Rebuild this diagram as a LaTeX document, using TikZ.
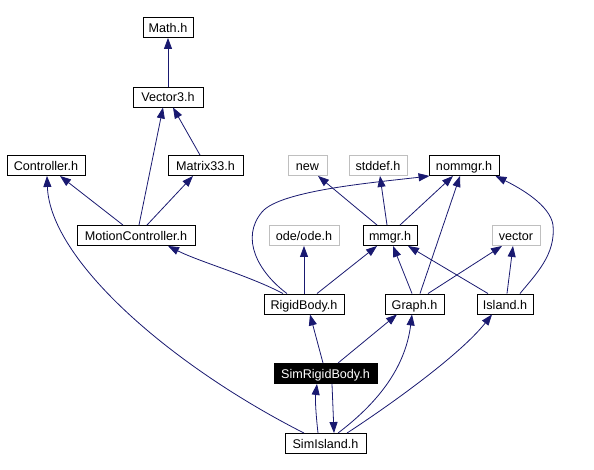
\documentclass[tikz,border=0pt]{standalone}
\usepackage{fontspec}
\setmainfont{Liberation Sans}
\usetikzlibrary{arrows.meta}
\definecolor{edgeblue}{HTML}{191970}
\definecolor{extgray}{HTML}{BFBFBF}
\tikzset{
  box/.style={draw=black, line width=0.9pt, fill=white, minimum height=20pt,
    inner xsep=0pt, inner ysep=0pt, text height=10pt, text depth=0pt,
    font=\fontsize{12.6}{14}\selectfont},
  extbox/.style={box, draw=extgray},
  selbox/.style={box, fill=black, text=white},
  dep/.style={draw=edgeblue, line width=0.8pt, -{Triangle[length=11pt,width=8pt]}},
}
\begin{document}
\begin{tikzpicture}[x=1pt,y=-1pt]
\useasboundingbox (0,0) rectangle (594,470);
% nodes
\node[box, minimum width=50pt] (math) at (168,27.5) {Math.h};
\node[box, minimum width=70pt] (vec3) at (168,97) {Vector3.h};
\node[box, minimum width=78pt] (ctrl) at (46,165.5) {Controller.h};
\node[box, minimum width=75pt] (mat33) at (205.5,165.5) {Matrix33.h};
\node[box, minimum width=118pt] (motion) at (136,235.5) {MotionController.h};
\node[extbox, minimum width=39pt] (new) at (307.5,165.5) {new};
\node[extbox, minimum width=58pt] (stddef) at (378,165.5) {stddef.h};
\node[box, minimum width=70pt] (nommgr) at (464,165.5) {nommgr.h};
\node[extbox, minimum width=70pt] (ode) at (304,235.5) {ode/ode.h};
\node[box, minimum width=54pt] (mmgr) at (390,235.5) {mmgr.h};
\node[extbox, minimum width=48pt] (vector) at (516,235.5) {vector};
\node[box, minimum width=80pt] (rigid) at (304,304) {RigidBody.h};
\node[box, minimum width=59pt] (graph) at (414.5,304) {Graph.h};
\node[box, minimum width=56pt] (island) at (505,304) {Island.h};
\node[selbox, minimum width=103pt] (simrb) at (325.5,373.5) {SimRigidBody.h};
\node[box, minimum width=81pt] (simisl) at (325.5,443.5) {SimIsland.h};
% edges
\draw[dep] (vec3.north) -- (math.south);
\draw[dep] ([xshift=3pt]motion.north) -- ([xshift=-5pt]vec3.south);
\draw[dep] ([xshift=-5.5pt]mat33.north) -- ([xshift=5pt]vec3.south);
\draw[dep] ([xshift=-13pt]motion.north) -- ([xshift=14pt]ctrl.south);
\draw[dep] ([xshift=11pt]motion.north) -- ([xshift=-12.5pt]mat33.south);
\draw[dep] ([xshift=-21.5pt]simisl.north) .. controls (170,365) and (50,260) .. ([xshift=1pt]ctrl.south);
\draw[dep] ([xshift=-21pt]rigid.north) .. controls (250,276) and (200,262) .. ([xshift=32pt]motion.south);
\draw[dep] ([xshift=-17pt]rigid.north) .. controls (258,272) and (240,238) .. (262,212)
  .. controls (280,190) and (380,182) .. ([xshift=1pt]nommgr.south west);
\draw[dep] (rigid.north) -- (ode.south);
\draw[dep] ([xshift=13pt]rigid.north) -- ([xshift=-13pt]mmgr.south);
\draw[dep] ([xshift=-13pt]mmgr.north) -- ([xshift=10.5pt]new.south);
\draw[dep] ([xshift=-3pt]mmgr.north) -- ([xshift=2pt]stddef.south);
\draw[dep] ([xshift=10pt]mmgr.north) -- ([xshift=-11pt]nommgr.south);
\draw[dep] ([xshift=-2.5pt]graph.north) -- ([xshift=3pt]mmgr.south);
\draw[dep] ([xshift=5.5pt]graph.north) -- ([xshift=-4pt]nommgr.south);
\draw[dep] ([xshift=13.5pt]graph.north) -- ([xshift=-14pt]vector.south);
\draw[dep] ([xshift=-17pt]island.north) -- ([xshift=18pt]mmgr.south);
\draw[dep] ([xshift=2pt]island.north) -- ([xshift=-3pt]vector.south);
\draw[dep] ([xshift=15pt]island.north) .. controls (535,275) and (556,255) .. (553,225)
  .. controls (550,205) and (520,188) .. ([xshift=-4pt]nommgr.south east);
\draw[dep] ([xshift=-2.5pt]simrb.north) -- ([xshift=6pt]rigid.south);
\draw[dep] ([xshift=12.5pt]simrb.north) -- ([xshift=-17.5pt]graph.south);
\draw[dep] ([xshift=6.5pt]simrb.south) -- ([xshift=8.5pt]simisl.north);
\draw[dep] ([xshift=-7.5pt]simisl.north) .. controls (316,415) and (315,400) .. ([xshift=-8.5pt]simrb.south);
\draw[dep] ([xshift=12.5pt]simisl.north) .. controls (375,405) and (405,370) .. ([xshift=-2.5pt]graph.south);
\draw[dep] ([xshift=21.5pt]simisl.north) .. controls (390,405) and (460,355) .. ([xshift=-13pt]island.south);
\end{tikzpicture}
\end{document}
